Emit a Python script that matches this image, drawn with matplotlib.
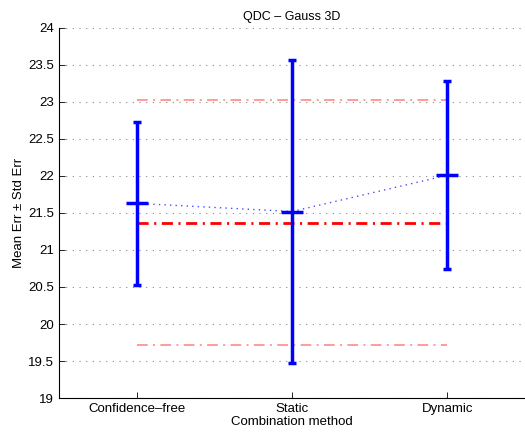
import numpy as np
import matplotlib
matplotlib.use('Agg')
import matplotlib.pyplot as plt

plt.rcParams['font.family'] = ['Liberation Sans', 'DejaVu Sans']

# dados
metodos = ['Confidence–free', 'Static', 'Dynamic']
media = [21.63, 21.52, 22.01]
erro = [1.105, 2.05, 1.27]
ref_media = 21.37
ref_sup = 23.03
ref_inf = 19.72

x = np.arange(1, len(metodos) + 1)

fig = plt.figure(figsize=(5.25, 4.32), dpi=100)
ax = fig.add_axes([0.1124, 0.0787, 0.8876, 0.8565])

# linhas de referência (média e +- desvio)
ax.plot([x[0], x[-1]], [ref_media, ref_media], color='red', lw=2,
        dashes=(4, 2, 0.75, 2), zorder=2)
ax.plot([x[0], x[-1]], [ref_sup, ref_sup], color='#ff7f7f', lw=1.1,
        dashes=(7, 3.5, 1.3, 3.5), zorder=2)
ax.plot([x[0], x[-1]], [ref_inf, ref_inf], color='#ff7f7f', lw=1.1,
        dashes=(7, 3.5, 1.3, 3.5), zorder=2)

# barras de erro
ax.plot(x, media, color='blue', lw=1, ls=(0, (1, 3)), alpha=0.7, zorder=3)
ax.errorbar(x, media, yerr=erro, fmt='none', ecolor='blue', elinewidth=2.5,
            capsize=2.6, capthick=2.5, zorder=4)
ax.plot(x, media, ls='none', marker='_', ms=16, mew=2.5, color='blue', zorder=5)

ax.set_xlim(0.5, 3.5)
ax.set_ylim(19, 24)
ax.set_yticks(np.arange(19, 24.01, 0.5))
ax.set_yticklabels(['19', '19.5', '20', '20.5', '21', '21.5', '22', '22.5',
                    '23', '23.5', '24'])
ax.set_xticks(x)
ax.set_xticklabels(metodos)
ax.tick_params(direction='in', labelsize=9.5, length=4, width=0.6, colors='black')
ax.yaxis.grid(True, color='#888888', ls=(0, (1, 5)), lw=0.8)
ax.set_axisbelow(True)
for s in ['top', 'right']:
    ax.spines[s].set_visible(False)
for s in ['left', 'bottom']:
    ax.spines[s].set_linewidth(0.8)

ax.set_title('QDC – Gauss 3D', fontsize=9, pad=6)
ax.set_xlabel('Combination method', fontsize=9.5, labelpad=1)
ax.set_ylabel('Mean Err ± Std Err', fontsize=9.5, labelpad=2)

fig.savefig('out.png', dpi=100)
